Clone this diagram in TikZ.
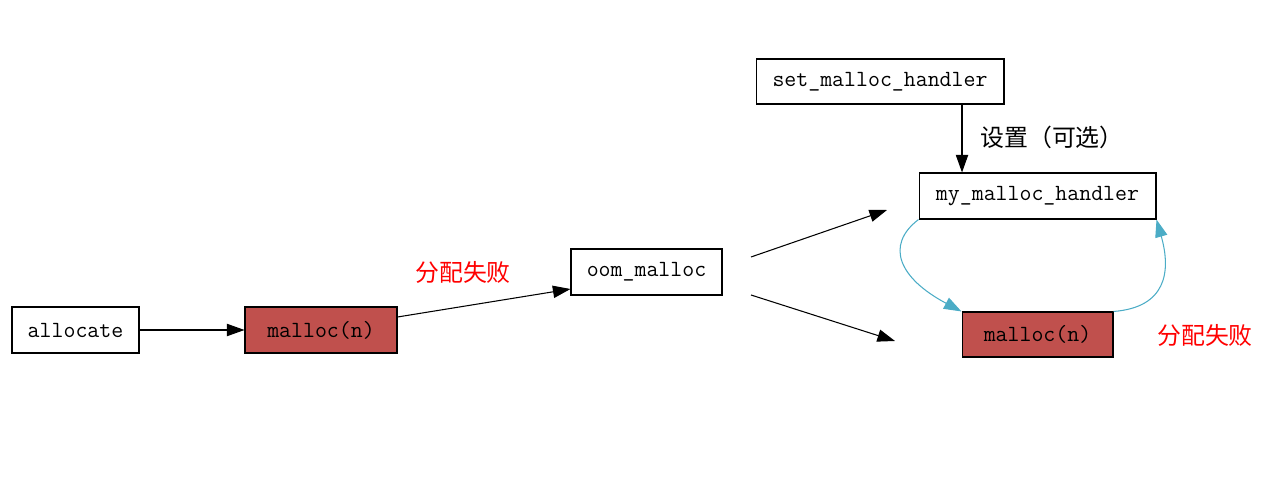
\documentclass[tikz,border=0pt]{standalone}
\usepackage{fontspec}
\usepackage{tikz}
\usetikzlibrary{arrows.meta}
\newfontfamily\cjk{Noto Sans CJK SC}
\definecolor{FailRed}{HTML}{C0504D}
\definecolor{LoopBlue}{HTML}{4BACC6}
\definecolor{LabelRed}{HTML}{FF0000}
\tikzset{
  fnbox/.style={draw=black,fill=white,line width=0.6pt,inner sep=2pt,
    font=\fontsize{13.2}{16}\selectfont\ttfamily,align=center},
  failbox/.style={fnbox,fill=FailRed},
  edgeK/.style={line width=0.6pt,draw=black,-{Triangle[length=10pt,width=7pt]}},
  edgeB/.style={line width=0.6pt,draw=LoopBlue,
    -{Triangle[length=10pt,width=7pt,fill=LoopBlue]}},
  cjklabel/.style={font=\fontsize{13.6}{16}\selectfont\cjk,inner sep=0pt},
}
\begin{document}
\begin{tikzpicture}[x=0.02cm,y=-0.02cm]
  \useasboundingbox (0,0) rectangle (1266,482);
  \node[fnbox,minimum width=2.54cm,minimum height=0.92cm] (alloc) at (75.5,330) {allocate};
  \node[failbox,minimum width=3.04cm,minimum height=0.92cm] (mal1) at (321,330) {malloc(n)};
  \node[fnbox,minimum width=3.02cm,minimum height=0.92cm] (oom) at (646.5,272) {oom\_malloc};
  \node[fnbox,minimum width=4.96cm,minimum height=0.90cm] (seth) at (880,81.5) {set\_malloc\_handler};
  \node[fnbox,minimum width=4.74cm,minimum height=0.92cm] (myh) at (1037.5,196) {my\_malloc\_handler};
  \node[failbox,minimum width=3.02cm,minimum height=0.90cm] (mal2) at (1037.5,334.5) {malloc(n)};
  \node[cjklabel,text=LabelRed] (fail1) at (463,272) {分配失败};
  \node[cjklabel,text=LabelRed] (fail2) at (1205,335) {分配失败};
  \node[cjklabel] (setopt) at (1052,137) {设置（可选）};
  % loose ends of the oom_malloc arrows
  \coordinate (oomA) at (751,257);
  \coordinate (oomAend) at (887,210);
  \coordinate (oomB) at (751,295);
  \coordinate (oomBend) at (895,341);
  \draw[edgeK] (alloc.east) -- (mal1.west);
  \draw[edgeK] (mal1.east |- 0,317) -- (oom.west |- 0,289);
  \draw[edgeK] (oomA) -- (oomAend);
  \draw[edgeK] (oomB) -- (oomBend);
  \draw[edgeK] (seth.south -| 962,0) -- (myh.north -| 962,0);
  \draw[edgeB] (myh.south west) .. controls +(-34,26) and +(-62,-33) .. (mal2.north west);
  \draw[edgeB] (mal2.north east) .. controls +(52,-4) and +(15,53) .. (myh.south east);
\end{tikzpicture}
\end{document}
